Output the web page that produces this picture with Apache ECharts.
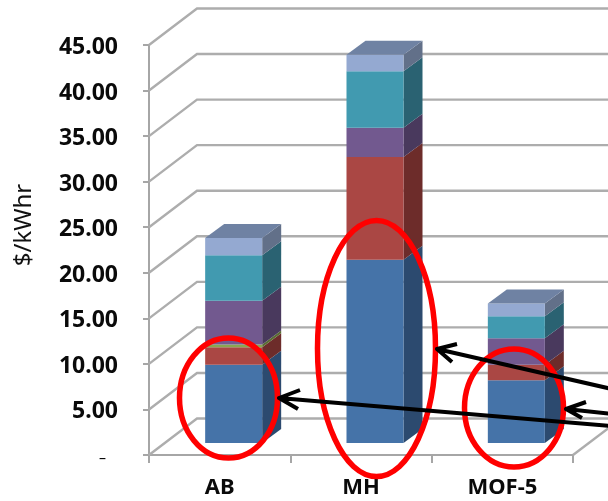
<!DOCTYPE html>
<html>
<head>
<meta charset="utf-8">
<title>$/kWhr</title>
<script src="https://cdn.jsdelivr.net/npm/echarts@6/dist/echarts.min.js"></script>
<style>
  html, body { margin: 0; padding: 0; background: #fff; }
  /* the source picture is a soft upscaled screenshot */
  #main { width: 608px; height: 501px; filter: blur(0.45px); }
</style>
</head>
<body>
<div id="main"></div>
<script>
// data
var categories = ['AB', 'MH', 'MOF-5'];
var yTicks = [0, 5, 10, 15, 20, 25, 30, 35, 40, 45];
var blueValues = [8.6, 20.1, 6.9];
var redValues = [1.9, 11.3, 1.7];
var greenValues = [0.3, 0, 0];
var purpleValues = [4.8, 3.2, 2.9];
var tealValues = [5.0, 6.2, 2.4];
var lightValues = [1.9, 1.8, 1.4];

// bottom to top: [values, front, side, top]
var layers = [
  [blueValues, '#4573a8', '#2c4a6f', '#4573a8'],
  [redValues, '#aa4744', '#6d2c2a', '#aa4744'],
  [greenValues, '#8aa64f', '#5a6d33', '#8aa64f'],
  [purpleValues, '#72598f', '#49395d', '#72598f'],
  [tealValues, '#419ab0', '#2a6272', '#419ab0'],
  [lightValues, '#94a9d1', '#627089', '#6f82a3']
];

// fake 3d, same projection as the excel chart
var wallDx = 48, wallDy = -36.5;
var barShiftX = 14, barShiftY = -12;
var barWidth = 57, barDx = 19, barDy = -14;

var chart = echarts.init(document.getElementById('main'));

function renderWall(params, api) {
  var cs = params.coordSys;
  var y = api.coord([0, api.value(1)])[1];
  return {
    type: 'polyline',
    silent: true,
    shape: {
      points: [[cs.x, y], [cs.x + wallDx, y + wallDy], [cs.x + cs.width + wallDx, y + wallDy]]
    },
    style: { fill: null, stroke: '#adadad', lineWidth: 2.4 }
  };
}

function renderFloorEdge(params, api) {
  var cs = params.coordSys;
  var y = api.coord([0, 0])[1];
  return {
    type: 'line',
    silent: true,
    shape: { x1: cs.x + cs.width, y1: y, x2: cs.x + cs.width + wallDx, y2: y + wallDy },
    style: { stroke: '#adadad', lineWidth: 2.4 }
  };
}

function makeRenderBar(front, side, top, isLast) {
  return function (params, api) {
    var p0 = api.coord([api.value(0), api.value(1)]);
    var p1 = api.coord([api.value(0), api.value(2)]);
    var left = p0[0] + barShiftX - barWidth / 2;
    var right = left + barWidth;
    var y0 = p0[1] + barShiftY;
    var y1 = p1[1] + barShiftY;
    var children = [{
      type: 'polygon',
      shape: { points: [[right, y0], [right + barDx, y0 + barDy], [right + barDx, y1 + barDy], [right, y1]] },
      style: { fill: side }
    }, {
      type: 'rect',
      shape: { x: left, y: y1, width: barWidth, height: y0 - y1 },
      style: { fill: front }
    }];
    if (isLast) {
      children.push({
        type: 'polygon',
        shape: { points: [[left, y1], [left + barDx, y1 + barDy], [right + barDx, y1 + barDy], [right, y1]] },
        style: { fill: top }
      });
    }
    return { type: 'group', silent: true, children: children };
  };
}

var series = [{
  type: 'custom',
  renderItem: renderWall,
  clip: false,
  z: 1,
  encode: { x: 0, y: 1 },
  data: yTicks.map(function (v) { return [0, v]; })
}, {
  type: 'custom',
  renderItem: renderFloorEdge,
  clip: false,
  z: 1,
  encode: { x: 0, y: 1 },
  data: [[0, 0]]
}];

// stack by hand, custom series does not stack
var running = categories.map(function () { return 0; });
layers.forEach(function (layer, n) {
  var data = layer[0].map(function (v, i) {
    var item = [i, running[i], running[i] + v];
    running[i] += v;
    return item;
  });
  series.push({
    type: 'custom',
    renderItem: makeRenderBar(layer[1], layer[2], layer[3], n === layers.length - 1),
    clip: false,
    z: 2 + n,
    encode: { x: 0, y: [1, 2] },
    data: data
  });
});

// hand drawn marks on top of the chart
function ring(cx, cy, rx, ry) {
  return {
    type: 'ellipse',
    shape: { cx: cx, cy: cy, rx: rx, ry: ry },
    style: { fill: null, stroke: '#ff0000', lineWidth: 5.5 },
    z: 100
  };
}

function arrow(points, head1, head2) {
  return {
    type: 'polyline',
    shape: { points: [head1, points[0], points[1], points[0], head2] },
    style: { fill: null, stroke: '#000', lineWidth: 4, lineJoin: 'round' },
    z: 101
  };
}

var option = {
  animation: false,
  backgroundColor: '#fff',
  textStyle: { fontFamily: 'Noto Sans' },
  grid: { left: 149, right: 35, top: 45, bottom: 46 },
  xAxis: {
    type: 'category',
    data: categories,
    axisLine: { lineStyle: { color: '#a6a6a6', width: 2 } },
    axisTick: { show: true, length: 8, lineStyle: { color: '#a6a6a6', width: 2 } },
    axisLabel: { color: '#0a0a0a', fontSize: 22, fontWeight: 'bold', margin: 22 }
  },
  yAxis: {
    type: 'value',
    min: 0,
    max: 45,
    interval: 5,
    name: '$/kWhr',
    nameLocation: 'middle',
    nameGap: 113,
    nameTextStyle: { color: '#111', fontSize: 24, padding: [0, 0, 0, 50] },
    axisLine: { show: true, lineStyle: { color: '#a6a6a6', width: 2 } },
    axisTick: { show: true, length: 6, lineStyle: { color: '#a6a6a6', width: 2 } },
    splitLine: { show: false },
    axisLabel: {
      color: '#0a0a0a',
      fontSize: 23,
      fontWeight: 'bold',
      margin: 31,
      padding: [5, 0, 0, 0],
      formatter: function (v) { return v === 0 ? '{dash|–}' : v.toFixed(2); },
      rich: {
        dash: { color: '#0a0a0a', fontSize: 14, fontWeight: 'normal', padding: [3, 12, 0, 0] }
      }
    }
  },
  series: series,
  graphic: [
    ring(228.5, 398, 49, 60),
    ring(376.5, 348.5, 59, 128),
    ring(514, 408, 49.5, 59),
    arrow([[437, 349], [612, 389]], [457, 344], [452, 362]),
    arrow([[279, 398], [612, 426]], [300, 390], [298, 409]),
    arrow([[566, 409], [612, 414]], [586, 402], [582, 418])
  ]
};

chart.setOption(option);
</script>
</body>
</html>
